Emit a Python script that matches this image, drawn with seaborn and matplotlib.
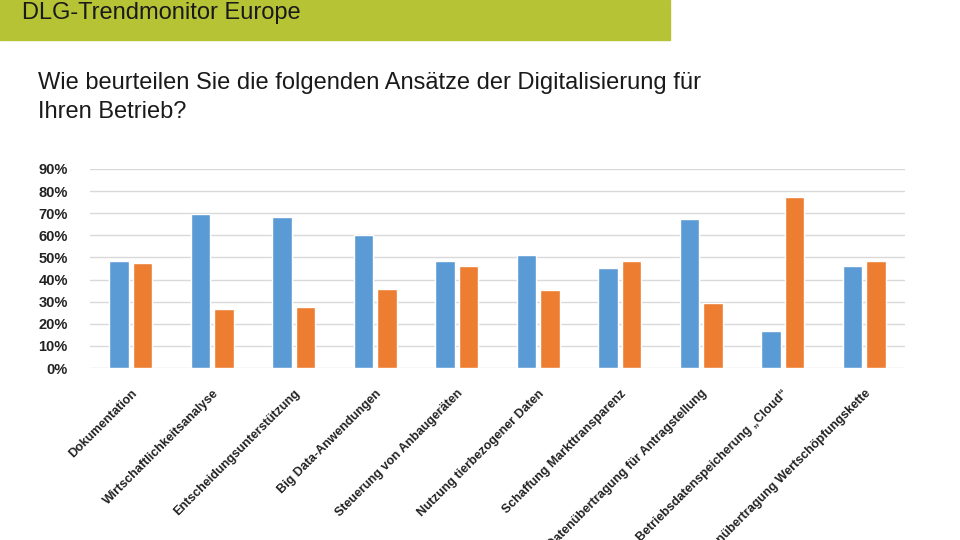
import matplotlib.pyplot as plt
import matplotlib.patches as mpatches
import pandas as pd
import seaborn as sns
from matplotlib.ticker import PercentFormatter

categories = ["Dokumentation", "Wirtschaftlichkeitsanalyse", "Entscheidungsunterstützung",
              "Big Data-Anwendungen", "Steuerung von Anbaugeräten", "Nutzung tierbezogener Daten",
              "Schaffung Markttransparenz", "Datenübertragung für Antragstellung",
              "Betriebsdatenspeicherung „Cloud“", "Datenübertragung Wertschöpfungskette"]
series_a = [48.4, 69.6, 68.5, 60.1, 48.4, 51.1, 45.4, 67.2, 16.8, 46.0]
series_b = [47.4, 26.8, 27.7, 35.7, 46.0, 35.2, 48.4, 29.2, 77.2, 48.4]
series_names = ["Reihe 1", "Reihe 2"]
colors = ["#5b9bd5", "#ed7d31"]

df = pd.DataFrame({
    "Ansatz": categories * 2,
    "Reihe": [series_names[0]] * len(categories) + [series_names[1]] * len(categories),
    "Wert": series_a + series_b,
})

sns.set_style("white")
plt.rcParams["font.family"] = ["Liberation Sans", "DejaVu Sans"]

fig = plt.figure(figsize=(9.6, 5.4), dpi=100)

# green header band
fig.patches.append(mpatches.Rectangle((0, 1 - 40 / 540), 670 / 960, 40 / 540,
                                      transform=fig.transFigure, color="#b5c334", zorder=0))
fig.text(22 / 960, 1 - 13 / 540, "DLG-Trendmonitor Europe", fontsize=17,
         color="#1a1a1a", va="center", ha="left")
fig.text(38 / 960, 1 - 83 / 540, "Wie beurteilen Sie die folgenden Ansätze der Digitalisierung für",
         fontsize=17, color="#1a1a1a", va="center", ha="left")
fig.text(38 / 960, 1 - 112 / 540, "Ihren Betrieb?",
         fontsize=17, color="#1a1a1a", va="center", ha="left")

ax = fig.add_axes([90 / 960, 1 - 368 / 540, 815 / 960, 199 / 540])
sns.barplot(data=df, x="Ansatz", y="Wert", hue="Reihe", palette=colors,
            width=0.58, gap=0.18, legend=False, ax=ax, saturation=1)

ax.set_ylim(0, 90)
ax.set_xlim(-0.5, len(categories) - 0.5)
ax.set_yticks(range(0, 91, 10))
ax.yaxis.set_major_formatter(PercentFormatter(decimals=0))
ax.grid(axis="y", color="#d9d9d9", linewidth=1)
ax.set_axisbelow(True)
for s in ax.spines.values():
    s.set_visible(False)
ax.set_xlabel("")
ax.set_ylabel("")
ax.tick_params(axis="both", length=0)
ax.tick_params(axis="y", pad=16)
for lab in ax.get_yticklabels():
    lab.set_fontsize(10.5)
    lab.set_fontweight("bold")
    lab.set_color("#222222")
ax.set_xticks(range(len(categories)))
ax.set_xticklabels(categories, rotation=45, ha="right", rotation_mode="anchor",
                   fontsize=9, fontweight="bold", color="#222222")
ax.tick_params(axis="x", pad=14)

fig.savefig("out.png", dpi=100)
